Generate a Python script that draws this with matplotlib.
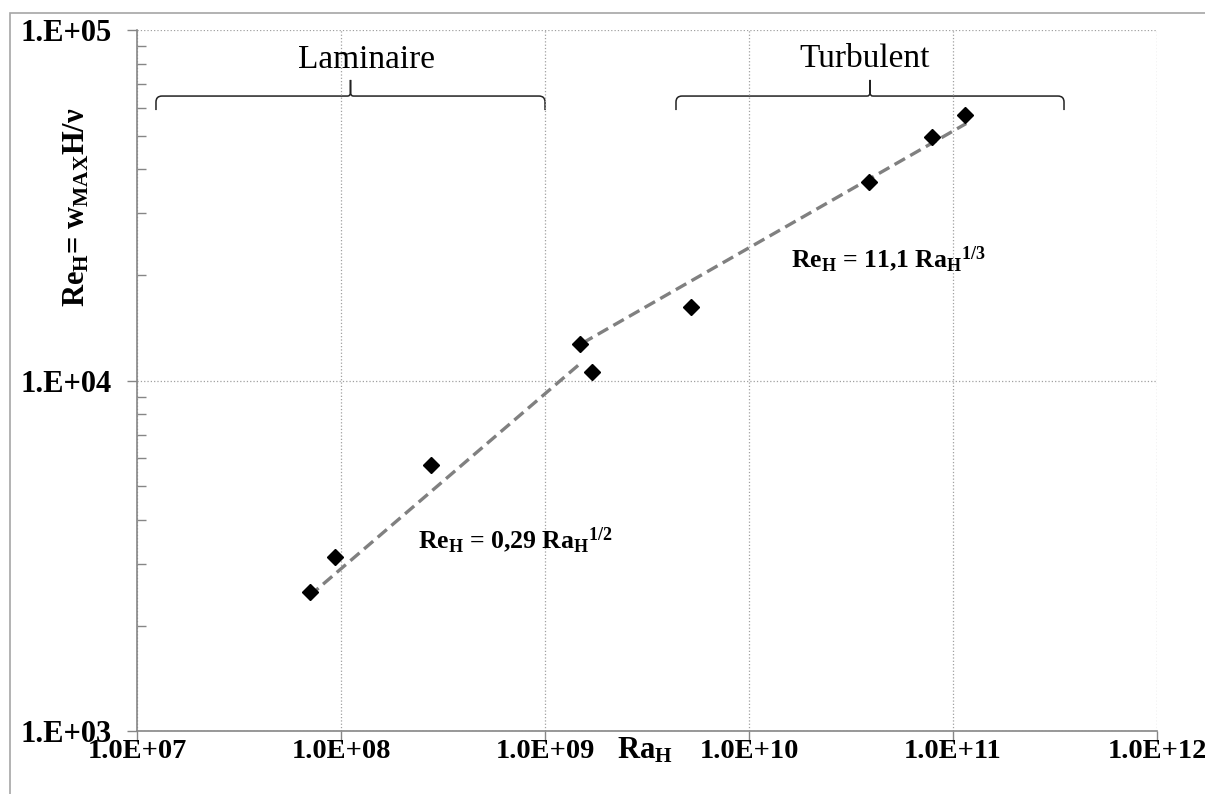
import numpy as np
import matplotlib
matplotlib.use("Agg")
import matplotlib.pyplot as plt
from matplotlib.path import Path
from matplotlib.patches import PathPatch, Rectangle
from matplotlib.ticker import FuncFormatter, LogLocator, NullLocator

plt.rcParams["font.family"] = ["Liberation Serif", "DejaVu Serif"]
plt.rcParams["mathtext.fontset"] = "custom"
plt.rcParams["mathtext.rm"] = "Liberation Serif"
plt.rcParams["mathtext.bf"] = "Liberation Serif:bold"
plt.rcParams["mathtext.it"] = "Liberation Serif:italic"

# measured points
ra_h = [7.05e7, 9.35e7, 2.76e8, 1.48e9, 1.70e9, 5.2e9, 3.87e10, 7.9e10, 1.15e11]
re_h = [2490, 3140, 5740, 12700, 10600, 16200, 36800, 49500, 57200]

# trend line end points (laminar / turbulent)
lam_x = [7.0e7, 1.52e9]
lam_y = [2430, 11300]
turb_x = [1.52e9, 1.16e11]
turb_y = [12770, 54100]

lam_label = "Re$_\\mathbf{H}$ = 0,29 Ra$_\\mathbf{H}$$^\\mathbf{1/2}$"
turb_label = "Re$_\\mathbf{H}$ = 11,1 Ra$_\\mathbf{H}$$^\\mathbf{1/3}$"

GRAY = "#868686"


def brace(ax, x0, x1, y, depth, tip, r=6, rt=3):
    # curly bracket in axes fraction coords
    bb = ax.get_window_extent()
    rx, ry = r / bb.width, r / bb.height
    tx, ty = rt / bb.width, rt / bb.height
    xm = (x0 + x1) / 2
    verts = [
        (x0, y - depth), (x0, y - ry), (x0, y), (x0 + rx, y),
        (xm - tx, y), (xm, y), (xm, y + ty), (xm, y + tip),
        (xm, y + tip), (xm, y + ty), (xm, y), (xm + tx, y),
        (x1 - rx, y), (x1, y), (x1, y - ry), (x1, y - depth),
    ]
    codes = [
        Path.MOVETO, Path.LINETO, Path.CURVE3, Path.CURVE3,
        Path.LINETO, Path.CURVE3, Path.CURVE3, Path.LINETO,
        Path.MOVETO, Path.LINETO, Path.CURVE3, Path.CURVE3,
        Path.LINETO, Path.CURVE3, Path.CURVE3, Path.LINETO,
    ]
    ax.add_patch(PathPatch(Path(verts, codes), fill=False, lw=1.1,
                           edgecolor="#222222", transform=ax.transAxes,
                           clip_on=False))


fig = plt.figure(figsize=(12.05, 7.94), dpi=100)
ax = fig.add_axes([0.1137, 0.0793, 0.8465, 0.8829])

fig.add_artist(Rectangle((0.0083, -0.05), 1.2, 0.9836 + 0.05, fill=False,
                         edgecolor="#a6a6a6", lw=1.2, transform=fig.transFigure))

ax.set_xscale("log")
ax.set_yscale("log")
ax.set_xlim(1e7, 1e12)
ax.set_ylim(1e3, 1e5)

ax.plot(lam_x, lam_y, color="#808080", lw=2.4, dashes=(3.6, 1.8), zorder=3)
ax.plot(turb_x, turb_y, color="#808080", lw=2.4, dashes=(3.6, 1.8), zorder=3)
ax.plot(ra_h, re_h, "D", color="black", markersize=8, zorder=4)

ax.grid(which="major", color="#a0a0a0", linestyle=":", linewidth=0.9)

for s in ["top", "right"]:
    ax.spines[s].set_visible(False)
for s in ["left", "bottom"]:
    ax.spines[s].set_color(GRAY)
    ax.spines[s].set_linewidth(1.2)

ax.xaxis.set_major_locator(LogLocator(base=10, numticks=10))
ax.xaxis.set_minor_locator(NullLocator())
ax.yaxis.set_major_locator(LogLocator(base=10, numticks=10))
ax.yaxis.set_minor_locator(LogLocator(base=10, subs=np.arange(2, 10), numticks=20))

ax.xaxis.set_major_formatter(FuncFormatter(lambda v, p: "1.0E+%02d" % round(np.log10(v))))
ax.yaxis.set_major_formatter(FuncFormatter(lambda v, p: "1.E+%02d" % round(np.log10(v))))
ax.yaxis.set_minor_formatter(FuncFormatter(lambda v, p: ""))

ax.tick_params(axis="x", which="major", direction="out", length=7, width=1,
               color=GRAY, pad=-1, labelsize=20.5)
ax.tick_params(axis="y", which="major", direction="out", length=7, width=1,
               color=GRAY, pad=11, labelsize=22)
ax.tick_params(axis="y", which="minor", direction="in", length=6.5, width=1,
               color=GRAY)
for lab in ax.get_xticklabels() + ax.get_yticklabels():
    lab.set_fontweight("bold")

ax.text(0.498, -0.039, "Ra$_\\mathbf{H}$", transform=ax.transAxes, ha="center",
        va="baseline", fontsize=22, fontweight="bold")
ax.text(-0.059, 0.7475, "Re$_\\mathbf{H}$= w$_\\mathbf{MAX}$H/\u03bd",
        transform=ax.transAxes, rotation=90, ha="center", va="center",
        fontsize=22, fontweight="bold")

ax.text(0.3706, 0.272, lam_label, transform=ax.transAxes, ha="center",
        va="center", fontsize=18.5, fontweight="bold")
ax.text(0.737, 0.673, turb_label, transform=ax.transAxes, ha="center",
        va="center", fontsize=18.5, fontweight="bold")

brace(ax, 0.0186, 0.40, 0.9058, 0.02, 0.023)
brace(ax, 0.5284, 0.9088, 0.9058, 0.02, 0.023)
ax.text(0.2245, 0.957, "Laminaire", transform=ax.transAxes, ha="center",
        va="center", fontsize=24)
ax.text(0.7137, 0.959, "Turbulent", transform=ax.transAxes, ha="center",
        va="center", fontsize=24)

fig.savefig("out.png", dpi=100)
